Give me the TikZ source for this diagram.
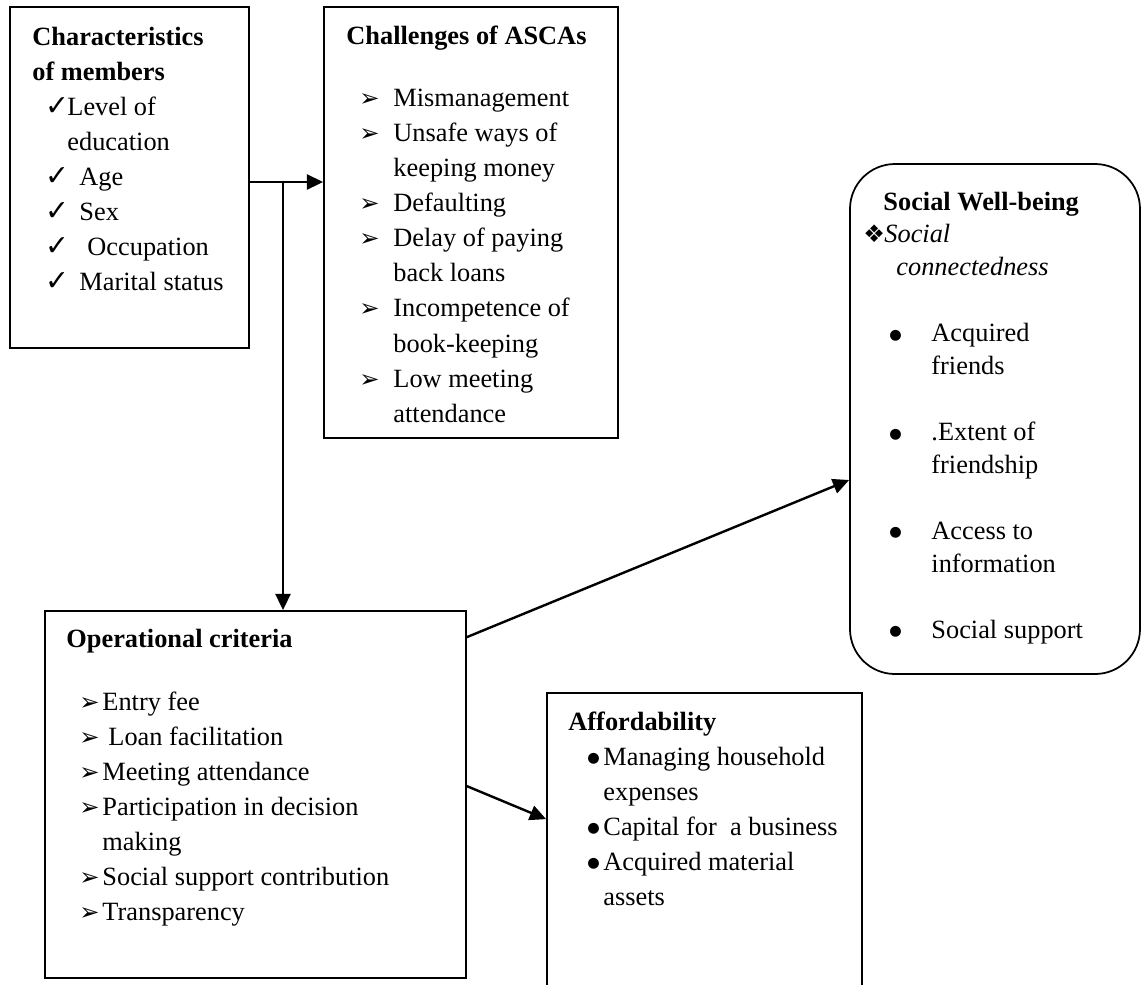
\documentclass[tikz,border=0pt]{standalone}
\usepackage{fontspec}
\setmainfont{Liberation Serif}
\newfontfamily\symfont{DejaVu Sans}
\usetikzlibrary{arrows.meta,positioning,fit,calc}
\newlength\px \setlength\px{0.016cm}
\newcommand\chk{{\symfont\fontsize{13}{13}\selectfont ✓}}
\newcommand\arr{{\symfont\fontsize{11}{11}\selectfont ➢}}
\newcommand\dia{{\symfont\fontsize{11}{11}\selectfont ❖}}
\newcommand\blt{\raisebox{1.2pt}{\symfont\fontsize{6.5}{6.5}\selectfont ●}}
\newcommand\itm[3]{\hspace*{#1\px}\makebox[#2\px][l]{#3}}
\newcommand\lines[1]{\begin{tabular}[t]{@{}l@{}}#1\end{tabular}}

\begin{document}
\begin{tikzpicture}[x=0.016cm,y=-0.016cm,box/.style={draw,line width=0.8pt,inner sep=0pt},txt/.style={anchor=base west,inner sep=0pt,font=\fontsize{12}{16}\selectfont},arrow/.style={-{Triangle[length=0.26cm,width=0.24cm]},line width=1.1pt}]
 \useasboundingbox (0,0) rectangle (1141,985);
 \node[box,fit={(10,7) (249,348)}] (members) {};
 \node[box,fit={(324,7) (618,438)}] (challenges) {};
 \node[box,fit={(45,611) (466,978)}] (operational) {};
 \node[box,fit={(547,693) (862,1010)}] (afford) {};
 \node[box,rounded corners=0.72cm,fit={(850,164) (1140,674)}] (social) {};
 \node[txt] (members-txt) at (32,45) {\lines{\textbf{Characteristics}\\\textbf{of members}\\
  \itm{13}{22}{\chk}Level of\\
  \hspace*{35\px}education\\
  \itm{13}{34}{\chk}Age\\
  \itm{13}{34}{\chk}Sex\\
  \itm{13}{42}{\chk}Occupation\\
  \itm{13}{34}{\chk}Marital status}};
 \node[txt] (challenges-txt) at (346,44) {\lines{\textbf{Challenges of ASCAs}\\[27\px]
  \itm{13}{34}{\arr}Mismanagement\\
  \itm{13}{34}{\arr}Unsafe ways of\\
  \hspace*{47\px}keeping money\\
  \itm{13}{34}{\arr}Defaulting\\
  \itm{13}{34}{\arr}Delay of paying\\
  \hspace*{47\px}back loans\\
  \itm{13}{34}{\arr}Incompetence of\\
  \hspace*{47\px}book-keeping\\
  \itm{13}{34}{\arr}Low meeting\\
  \hspace*{47\px}attendance}};
 \node[txt] (operational-txt) at (66,647) {\lines{\textbf{Operational criteria}\\[28\px]
  \itm{13}{23}{\arr}Entry fee\\
  \itm{13}{29}{\arr}Loan facilitation\\
  \itm{13}{23}{\arr}Meeting attendance\\
  \itm{13}{23}{\arr}Participation in decision\\
  \hspace*{36\px}making\\
  \itm{13}{23}{\arr}Social support contribution\\
  \itm{13}{23}{\arr}Transparency}};
 \node[txt] (afford-txt) at (568,730) {\lines{\textbf{Affordability}\\
  \itm{19}{16}{\blt}Managing household\\
  \hspace*{35\px}expenses\\
  \itm{19}{16}{\blt}Capital for~ a business\\
  \itm{19}{16}{\blt}Acquired material\\
  \hspace*{35\px}assets}};
 \node[txt,font=\fontsize{12}{15}\selectfont] (social-txt) at (863,210) {\lines{\hspace*{20\px}\textbf{Social Well-being}\\
  \makebox[21\px][l]{\dia}\textit{Social}\\
  \hspace*{33\px}\textit{connectedness}\\[33\px]
  \itm{26}{42}{\blt}Acquired\\
  \hspace*{68\px}friends\\[33\px]
  \itm{26}{42}{\blt}.Extent of\\
  \hspace*{68\px}friendship\\[33\px]
  \itm{26}{42}{\blt}Access to\\
  \hspace*{68\px}information\\[33\px]
  \itm{26}{42}{\blt}Social support}};
 % connectors
 \coordinate (split) at (283,182);
 \draw[arrow] (members.east |- split)--(challenges.west |- split);
 \draw[arrow] (split)--(split |- operational.north);
 \draw[arrow] ($(operational.north east)+(0,27)$)--($(social.west)+(0,61)$);
 \draw[arrow] ($(operational.north east)+(0,176)$)--($(afford.north west)+(0,127)$);
\end{tikzpicture}
\end{document}
